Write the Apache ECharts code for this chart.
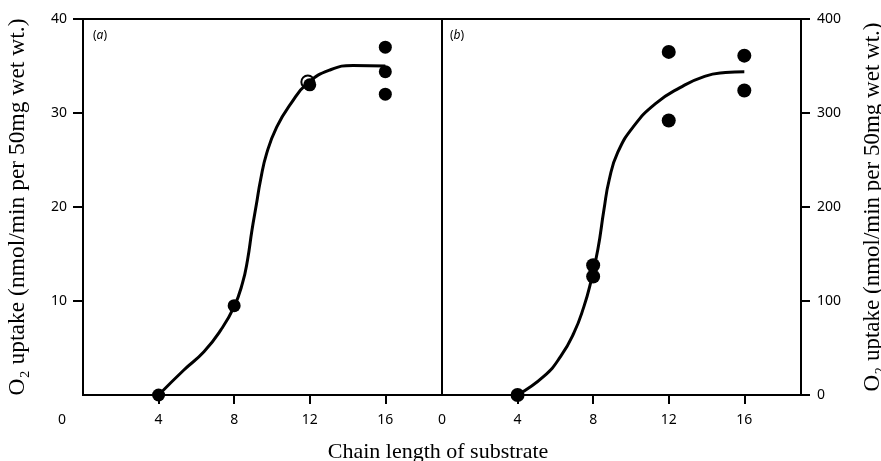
<!DOCTYPE html>
<html>
<head>
<meta charset="utf-8">
<script src="https://cdn.jsdelivr.net/npm/echarts@6/dist/echarts.min.js"></script>
<style>
html, body { margin: 0; padding: 0; background: #fff; }
#chart { width: 881px; height: 461px; }
</style>
</head>
<body>
<div id="chart"></div>
<script>
// tick values
var xTickValues = [4, 8, 12, 16];
var xLabelValues = [0, 4, 8, 12, 16];
var leftYValues = [10, 20, 30, 40];
var rightYValues = [0, 100, 200, 300, 400];

// panel (a): fitted curve and measured points
var curveA = [[4, 0], [5.34, 2.66], [6.4, 4.6], [7.29, 6.9], [8, 9.4], [8.44, 11.9], [8.71, 14.4],
	[8.94, 17.5], [9.17, 20.2], [9.4, 22.9], [9.72, 25.7], [10.25, 28.5], [11, 31], [11.9, 33.2],
	[13.1, 34.6], [14.3, 35.05], [16, 35]];
var openA = [[11.9, 33.3]];
var pointsA = [[4, 0], [8, 9.5], [12, 33.0], [16, 37], [16, 34.4], [16, 32]];

// panel (b)
var curveB = [[4, 0], [5.4, 20], [6.28, 41], [6.98, 66], [7.51, 94], [7.86, 119], [8.25, 155],
	[8.57, 197], [8.85, 229], [9.3, 258], [10.15, 286], [11.3, 310], [12.6, 327], [13.9, 339],
	[15, 343], [16, 344]];
var pointsB = [[4, 0], [8, 138], [8, 126], [12, 365], [12, 292], [16, 361], [16, 324]];

var yTitle = 'O₂ uptake (nmol/min per 50mg wet wt.)';
var serif = '"Liberation Serif", "DejaVu Serif", serif';
var sans = '"Noto Sans", sans-serif';

var lineStyle = { color: '#000', width: 2 };

function xAxis(idx) {
	return {
		type: 'value',
		gridIndex: idx,
		min: 0,
		max: 19,
		axisLine: { show: true, onZero: false, lineStyle: lineStyle },
		splitLine: { show: false },
		axisTick: { show: true, customValues: xTickValues, length: 9, lineStyle: lineStyle },
		axisLabel: {
			show: true,
			customValues: xLabelValues,
			margin: 18,
			color: '#000',
			fontFamily: sans,
			fontSize: 14,
			formatter: function(v) {
				// origin label of left panel sits left of the axis
				if (idx == 0 && v == 0) return '{z|0}';
				return v;
			},
			rich: { z: { padding: [0, 42, 0, 0], fontFamily: sans, fontSize: 14, color: '#000' } }
		}
	};
}

var myChart = echarts.init(document.getElementById('chart'));
var option = {
	backgroundColor: '#fff',
	animation: false,
	grid: [{
		left: 83, top: 19, width: 359, height: 376,
		show: true, borderColor: '#000', borderWidth: 2, outerBoundsMode: 'none'
	}, {
		left: 442, top: 19, width: 359, height: 376,
		show: true, borderColor: '#000', borderWidth: 2, outerBoundsMode: 'none'
	}],
	xAxis: [xAxis(0), xAxis(1)],
	yAxis: [{
		type: 'value',
		gridIndex: 0,
		position: 'left',
		min: 0,
		max: 40,
		axisLine: { show: true, onZero: false, lineStyle: lineStyle },
		splitLine: { show: false },
		axisTick: { show: true, customValues: leftYValues, length: 10, lineStyle: lineStyle },
		axisLabel: { show: true, customValues: leftYValues, margin: 16, color: '#000', fontFamily: sans, fontSize: 14 },
		name: yTitle,
		nameLocation: 'middle',
		nameRotate: 90,
		nameGap: 53,
		nameTextStyle: { fontFamily: serif, fontSize: 23.5, color: '#000' }
	}, {
		type: 'value',
		gridIndex: 1,
		position: 'right',
		min: 0,
		max: 400,
		axisLine: { show: true, onZero: false, lineStyle: lineStyle },
		splitLine: { show: false },
		axisTick: { show: true, customValues: rightYValues, length: 9, lineStyle: lineStyle },
		axisLabel: { show: true, customValues: rightYValues, margin: 16, color: '#000', fontFamily: sans, fontSize: 14 },
		name: yTitle,
		nameLocation: 'middle',
		nameRotate: 90,
		nameGap: 60,
		nameTextStyle: { fontFamily: serif, fontSize: 23, color: '#000' }
	}],
	graphic: [{
		type: 'text',
		left: 93, top: 30,
		style: {
			text: '({i|a})',
			font: '12px ' + sans,
			fill: '#000',
			rich: { i: { fontStyle: 'italic', fontSize: 12, fontFamily: sans } }
		}
	}, {
		type: 'text',
		left: 450, top: 30,
		style: {
			text: '({i|b})',
			font: '12px ' + sans,
			fill: '#000',
			rich: { i: { fontStyle: 'italic', fontSize: 12, fontFamily: sans } }
		}
	}, {
		type: 'text',
		x: 438, y: 452,
		style: {
			text: 'Chain length of substrate',
			font: '22px ' + serif,
			fill: '#000',
			align: 'center',
			verticalAlign: 'middle'
		}
	}],
	series: [{
		name: 'curve a',
		type: 'line',
		xAxisIndex: 0,
		yAxisIndex: 0,
		data: curveA,
		smooth: 0.5,
		showSymbol: false,
		silent: true,
		lineStyle: { color: '#000', width: 3 }
	}, {
		name: 'open a',
		type: 'scatter',
		xAxisIndex: 0,
		yAxisIndex: 0,
		data: openA,
		symbolSize: 13,
		itemStyle: { color: '#fff', borderColor: '#000', borderWidth: 2, opacity: 1 }
	}, {
		name: 'points a',
		type: 'scatter',
		xAxisIndex: 0,
		yAxisIndex: 0,
		data: pointsA,
		symbolSize: 13,
		itemStyle: { color: '#000', opacity: 1 }
	}, {
		name: 'curve b',
		type: 'line',
		xAxisIndex: 1,
		yAxisIndex: 1,
		data: curveB,
		smooth: 0.5,
		showSymbol: false,
		silent: true,
		lineStyle: { color: '#000', width: 3 }
	}, {
		name: 'points b',
		type: 'scatter',
		xAxisIndex: 1,
		yAxisIndex: 1,
		data: pointsB,
		symbolSize: 14,
		itemStyle: { color: '#000', opacity: 1 }
	}]
};
myChart.setOption(option);
</script>
</body>
</html>
